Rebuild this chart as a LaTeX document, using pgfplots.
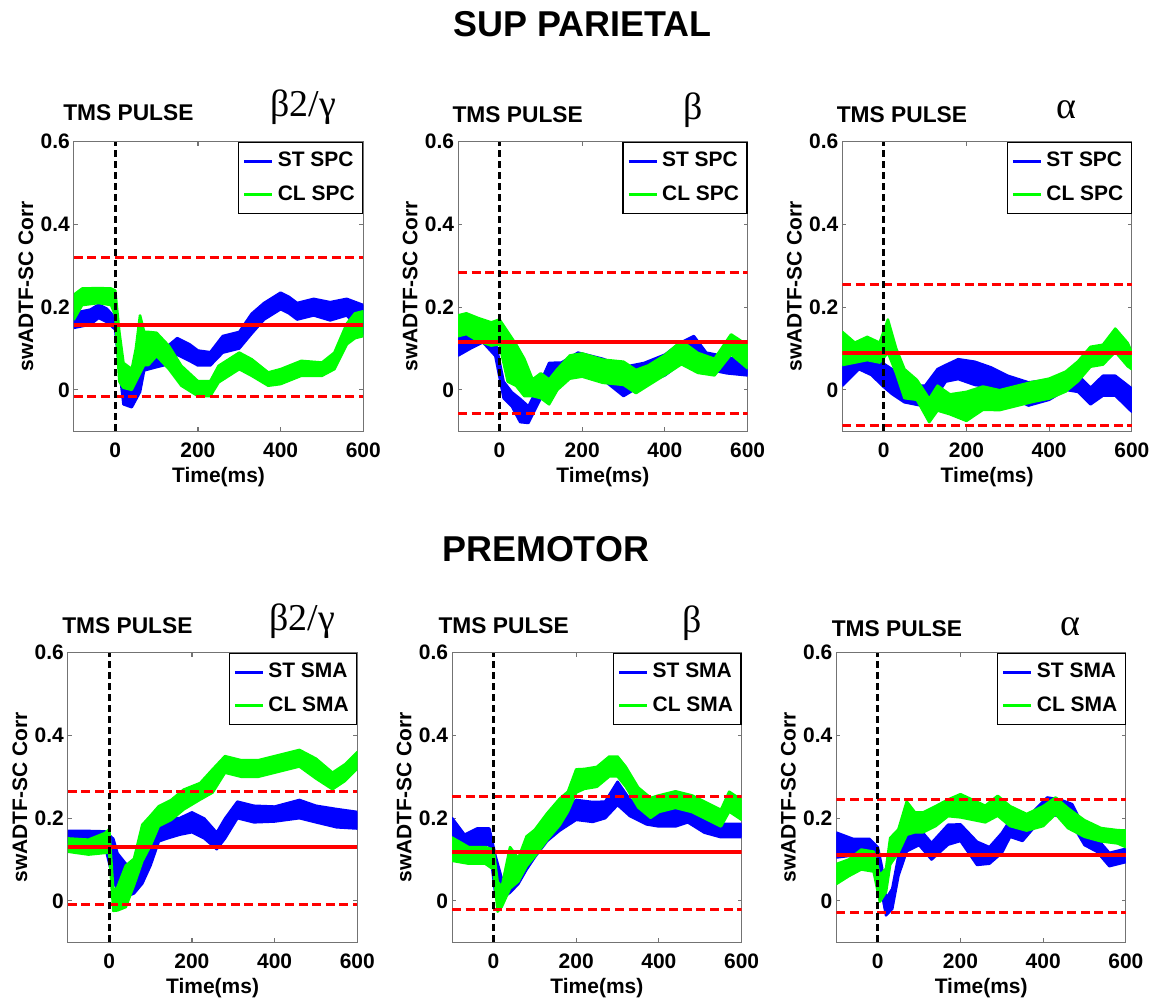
\documentclass[border=0pt]{standalone}
\usepackage{pgfplots}
\pgfplotsset{compat=1.18}
\usepackage{pgfplotstable}
\usepgfplotslibrary{fillbetween}
\usepackage{fontspec}
\setmainfont{Liberation Sans}
\newfontfamily\grk{Liberation Serif}
\definecolor{mblue}{RGB}{0,0,255}
\definecolor{mgreen}{RGB}{0,255,0}
\definecolor{mred}{RGB}{255,0,0}

% ---- SUP PARIETAL beta2/gamma
\pgfplotstableread{
t m e
-100 0.168 0.018
-60 0.176 0.018
-40 0.19 0.016
-20 0.18 0.016
0 0.16 0.014
10 0.08 0.03
20 -0.01 0.025
40 -0.02 0.022
60 0.02 0.025
70 0.065 0.018
100 0.075 0.02
120 0.08 0.02
150 0.105 0.02
180 0.09 0.02
200 0.077 0.018
230 0.075 0.016
260 0.11 0.02
300 0.12 0.02
330 0.16 0.024
360 0.19 0.02
400 0.215 0.02
420 0.205 0.02
440 0.19 0.02
480 0.2 0.02
520 0.19 0.022
560 0.2 0.02
600 0.17 0.035
}\PAb
\pgfplotstableread{
t m e
-100 0.2 0.03
-80 0.225 0.02
-40 0.228 0.018
-10 0.225 0.02
0 0.21 0.03
10 0.08 0.06
20 0.035 0.03
40 0.025 0.025
50 0.06 0.04
60 0.11 0.07
70 0.1 0.04
80 0.1 0.04
100 0.11 0.028
130 0.078 0.028
160 0.034 0.024
200 0.003 0.018
230 0.003 0.018
250 0.038 0.02
300 0.07 0.02
330 0.054 0.02
370 0.026 0.016
400 0.032 0.018
450 0.052 0.018
500 0.05 0.016
530 0.07 0.02
560 0.135 0.025
580 0.155 0.03
600 0.16 0.03
}\PAg
% ---- SUP PARIETAL beta
\pgfplotstableread{
t m e
-100 0.105 0.022
-70 0.12 0.02
-40 0.14 0.025
-10 0.1 0.018
10 0.0 0.02
30 -0.023 0.017
50 -0.05 0.028
70 -0.06 0.02
100 0.0 0.02
120 0.04 0.025
150 0.046 0.02
190 0.07 0.02
250 0.05 0.025
300 0.02 0.035
350 0.04 0.025
400 0.06 0.025
440 0.09 0.025
470 0.11 0.02
500 0.07 0.02
550 0.06 0.02
600 0.05 0.015
}\PBb
\pgfplotstableread{
t m e
-100 0.155 0.025
-80 0.16 0.025
-50 0.145 0.028
-20 0.135 0.028
0 0.14 0.03
20 0.08 0.06
40 0.06 0.05
60 0.03 0.045
80 0.005 0.02
100 0.01 0.03
120 -0.005 0.03
140 0.025 0.025
170 0.055 0.028
200 0.06 0.028
250 0.045 0.028
300 0.04 0.028
330 0.02 0.028
360 0.035 0.024
400 0.06 0.024
440 0.09 0.028
480 0.065 0.024
520 0.055 0.02
560 0.11 0.024
600 0.08 0.028
}\PBg
% ---- SUP PARIETAL alpha
\pgfplotstableread{
t m e
-100 0.04 0.03
-60 0.08 0.03
-30 0.06 0.024
0 0.035 0.028
20 0.02 0.03
50 -0.01 0.02
100 -0.015 0.025
130 0.02 0.03
150 0.04 0.02
180 0.05 0.024
220 0.04 0.028
260 0.03 0.024
300 0.01 0.024
350 -0.01 0.028
400 0.0 0.024
440 0.02 0.02
470 0.015 0.02
500 -0.015 0.02
530 0.01 0.024
560 0.01 0.024
600 -0.025 0.028
}\PCb
\pgfplotstableread{
t m e
-100 0.1 0.04
-70 0.09 0.024
-40 0.1 0.028
-10 0.09 0.024
10 0.13 0.04
30 0.07 0.03
50 0.015 0.035
80 0.0 0.024
110 -0.05 0.028
130 -0.02 0.03
160 -0.035 0.024
200 -0.04 0.035
240 -0.02 0.028
280 -0.025 0.024
320 -0.015 0.024
360 -0.005 0.024
400 0.003 0.024
440 0.02 0.024
470 0.045 0.024
500 0.08 0.024
530 0.085 0.024
560 0.12 0.028
590 0.085 0.028
600 0.07 0.02
}\PCg
% ---- PREMOTOR beta2/gamma
\pgfplotstableread{
t m e
-100 0.155 0.014
-50 0.157 0.012
-10 0.15 0.018
10 0.1 0.05
20 0.07 0.045
40 0.05 0.04
60 0.05 0.032
80 0.07 0.028
100 0.11 0.024
120 0.16 0.016
140 0.175 0.024
170 0.18 0.02
200 0.19 0.024
230 0.175 0.024
260 0.145 0.02
280 0.175 0.024
310 0.22 0.02
350 0.21 0.02
400 0.21 0.018
460 0.222 0.022
500 0.21 0.02
550 0.2 0.022
600 0.195 0.02
}\PDb
\pgfplotstableread{
t m e
-100 0.135 0.016
-50 0.13 0.018
-10 0.14 0.024
0 0.145 0.028
10 0.0 0.024
20 0.005 0.028
40 0.035 0.05
60 0.07 0.032
80 0.14 0.044
100 0.17 0.036
120 0.205 0.024
150 0.22 0.024
180 0.245 0.024
220 0.265 0.02
250 0.29 0.028
280 0.33 0.02
320 0.32 0.02
360 0.32 0.02
400 0.33 0.02
460 0.345 0.02
500 0.32 0.024
540 0.29 0.02
570 0.31 0.02
600 0.34 0.02
}\PDg
% ---- PREMOTOR beta
\pgfplotstableread{
t m e
-100 0.175 0.025
-70 0.14 0.02
-40 0.155 0.02
-10 0.155 0.02
5 0.06 0.048
20 0.03 0.024
40 0.04 0.02
60 0.065 0.024
80 0.1 0.024
100 0.13 0.024
130 0.165 0.02
160 0.19 0.02
200 0.22 0.024
240 0.215 0.024
270 0.22 0.02
300 0.26 0.028
330 0.225 0.02
370 0.205 0.02
400 0.2 0.02
440 0.2 0.02
470 0.21 0.02
510 0.185 0.02
550 0.17 0.016
600 0.17 0.016
}\PEb
\pgfplotstableread{
t m e
-100 0.125 0.028
-60 0.11 0.02
-20 0.11 0.02
0 0.1 0.024
10 0.01 0.036
20 0.01 0.024
40 0.08 0.05
60 0.075 0.028
80 0.12 0.036
100 0.14 0.032
130 0.18 0.032
160 0.215 0.032
180 0.24 0.024
200 0.29 0.028
220 0.295 0.024
250 0.3 0.024
280 0.325 0.024
300 0.325 0.024
320 0.3 0.024
350 0.25 0.024
380 0.225 0.024
400 0.235 0.02
440 0.245 0.02
480 0.235 0.02
520 0.215 0.02
550 0.2 0.02
570 0.24 0.024
600 0.22 0.024
}\PEg
% ---- PREMOTOR alpha
\pgfplotstableread{
t m e
-100 0.135 0.03
-60 0.13 0.02
-20 0.13 0.02
0 0.11 0.02
10 0.05 0.032
20 -0.015 0.02
35 0.005 0.024
50 0.085 0.024
70 0.15 0.03
100 0.155 0.02
130 0.12 0.02
170 0.16 0.024
200 0.165 0.02
240 0.115 0.028
270 0.11 0.02
300 0.14 0.024
320 0.175 0.02
350 0.165 0.02
380 0.2 0.02
410 0.23 0.02
440 0.225 0.02
470 0.21 0.024
500 0.155 0.02
530 0.135 0.016
560 0.1 0.016
600 0.11 0.016
}\PFb
\pgfplotstableread{
t m e
-100 0.065 0.024
-70 0.08 0.02
-40 0.1 0.024
-10 0.095 0.024
5 0.03 0.032
20 0.05 0.028
30 0.12 0.032
50 0.145 0.028
70 0.2 0.04
90 0.19 0.024
110 0.19 0.024
140 0.205 0.024
170 0.225 0.02
200 0.23 0.028
230 0.22 0.024
260 0.21 0.02
290 0.23 0.024
320 0.205 0.024
360 0.19 0.02
400 0.205 0.024
430 0.23 0.02
460 0.2 0.024
500 0.175 0.02
540 0.16 0.016
580 0.155 0.016
600 0.15 0.02
}\PFg

\newcommand{\band}[3]{%
  \addplot[draw=none, name path=#3u, forget plot] table[x=t, y expr=\thisrow{m}+\thisrow{e}] {#2};
  \addplot[draw=none, name path=#3l, forget plot] table[x=t, y expr=\thisrow{m}-\thisrow{e}] {#2};
  \addplot[fill=#1, draw=#1, line width=1.3pt, line join=round, forget plot] fill between[of=#3u and #3l];
}
\newcommand{\refl}[3]{%
  \addplot[mred, line width=2pt, forget plot] coordinates {(-100,#1) (600,#1)};
  \addplot[mred, line width=1.5pt, dash pattern=on 4.5pt off 2.3pt, forget plot] coordinates {(-100,#2) (600,#2)};
  \addplot[mred, line width=1.5pt, dash pattern=on 4.5pt off 2.3pt, forget plot] coordinates {(-100,#3) (600,#3)};
  \addplot[black, line width=1.6pt, dash pattern=on 3.5pt off 2pt, forget plot] coordinates {(0,-0.1) (0,0.6)};
}

\pgfplotsset{
  panel/.style={
    width=145pt, height=145pt, scale only axis,
    xmin=-100, xmax=600, ymin=-0.1, ymax=0.6,
    xtick={0,200,400,600}, ytick={0,0.2,0.4,0.6},
    tick align=inside, major tick length=2pt,
    axis line style={draw=black!55, line width=0.6pt},
    tick style={draw=black!55, line width=0.6pt},
    /pgf/number format/assume math mode=true,
    tick label style={font=\bfseries\fontsize{10.5}{12}\selectfont},
    xticklabel style={yshift=-2.5pt},
    yticklabel style={xshift=1.5pt},
    xlabel={Time(ms)}, ylabel={swADTF-SC Corr},
    every axis x label/.style={at={(axis description cs:0.5,-0.16)}, anchor=center,
      font=\bfseries\fontsize{10.5}{12}\selectfont},
    every axis y label/.style={at={(axis description cs:-0.166,0.5)}, rotate=90, anchor=center,
      font=\bfseries\fontsize{10.5}{12}\selectfont},
    legend style={at={(1,1)}, anchor=north east, draw=black, line width=0.6pt,
      font=\bfseries\fontsize{10.5}{12}\selectfont, inner xsep=2pt, inner ysep=3pt,
      row sep=4pt, cells={anchor=west}},
    legend image code/.code={\draw[#1, line width=1.6pt] (0pt,0pt) -- (14pt,0pt);},
  }
}

\begin{document}
\begin{tikzpicture}

\node[font=\bfseries\fontsize{18}{20}\selectfont] at (291.75pt,490pt) {SUP PARIETAL};
\node[font=\bfseries\fontsize{18}{20}\selectfont] at (273.35pt,227pt) {PREMOTOR};

% ---------- row 1
\begin{axis}[panel, at={(37pt,286pt)}, anchor=south west]
\addlegendimage{mblue}\addlegendentry{ST SPC}
\addlegendimage{mgreen}\addlegendentry{CL SPC}
\band{mblue}{\PAb}{b}
\band{mgreen}{\PAg}{g}
\refl{0.157}{0.32}{-0.016}
\end{axis}

\begin{axis}[panel, at={(229.5pt,286pt)}, anchor=south west]
\addlegendimage{mblue}\addlegendentry{ST SPC}
\addlegendimage{mgreen}\addlegendentry{CL SPC}
\band{mblue}{\PBb}{b}
\band{mgreen}{\PBg}{g}
\refl{0.116}{0.283}{-0.057}
\end{axis}

\begin{axis}[panel, at={(422pt,286pt)}, anchor=south west]
\addlegendimage{mblue}\addlegendentry{ST SPC}
\addlegendimage{mgreen}\addlegendentry{CL SPC}
\band{mblue}{\PCb}{b}
\band{mgreen}{\PCg}{g}
\refl{0.088}{0.255}{-0.087}
\end{axis}

% ---------- row 2
\begin{axis}[panel, at={(34pt,30pt)}, anchor=south west]
\addlegendimage{mblue}\addlegendentry{ST SMA}
\addlegendimage{mgreen}\addlegendentry{CL SMA}
\band{mblue}{\PDb}{b}
\band{mgreen}{\PDg}{g}
\refl{0.13}{0.264}{-0.008}
\end{axis}

\begin{axis}[panel, at={(226.5pt,30pt)}, anchor=south west]
\addlegendimage{mblue}\addlegendentry{ST SMA}
\addlegendimage{mgreen}\addlegendentry{CL SMA}
\band{mblue}{\PEb}{b}
\band{mgreen}{\PEg}{g}
\refl{0.119}{0.252}{-0.022}
\end{axis}

\begin{axis}[panel, at={(419pt,30pt)}, anchor=south west]
\addlegendimage{mblue}\addlegendentry{ST SMA}
\addlegendimage{mgreen}\addlegendentry{CL SMA}
\band{mblue}{\PFb}{b}
\band{mgreen}{\PFg}{g}
\refl{0.11}{0.244}{-0.028}
\end{axis}

% ---------- panel captions
\begin{scope}[every node/.style={font=\bfseries\fontsize{11.4}{13}\selectfont, anchor=west, inner sep=0pt}]
\node at (31.5pt,445.5pt) {TMS PULSE};
\node at (226.5pt,444.5pt) {TMS PULSE};
\node at (419pt,444.5pt) {TMS PULSE};
\node at (31pt,188.5pt) {TMS PULSE};
\node at (219.5pt,188.5pt) {TMS PULSE};
\node at (416.5pt,187pt) {TMS PULSE};
\end{scope}
\begin{scope}[every node/.style={font=\grk\fontsize{19}{21}\selectfont, anchor=center, inner sep=0pt}]
\node at (152pt,448.5pt) {β2/γ};
\node at (347pt,447pt) {β};
\node at (534pt,447pt) {α};
\node at (151.5pt,191pt) {β2/γ};
\node at (346.5pt,190pt) {β};
\node at (536pt,188pt) {α};
\end{scope}
\path (0pt,0pt) rectangle (578pt,502pt);
\end{tikzpicture}
\end{document}
